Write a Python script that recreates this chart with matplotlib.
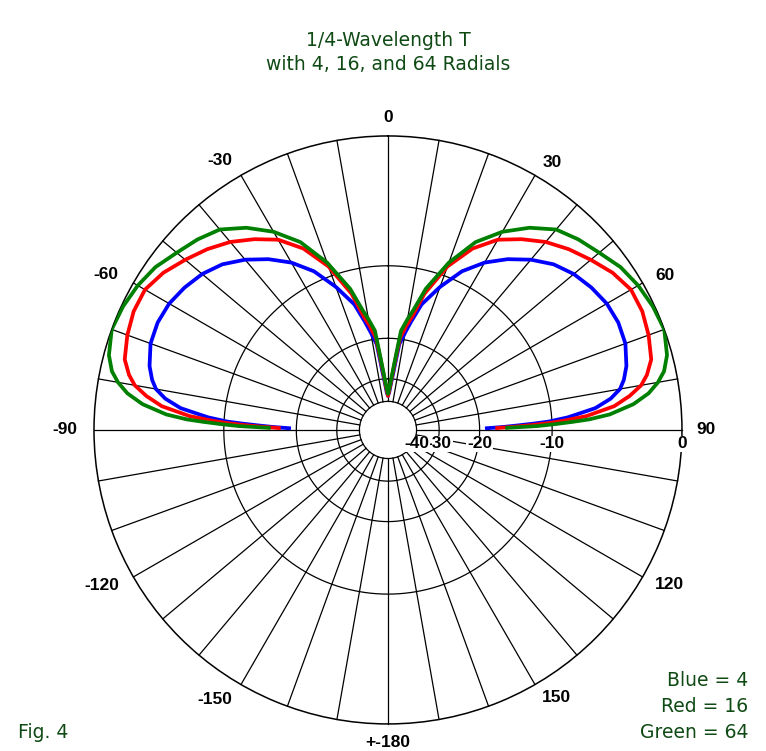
import numpy as np
import matplotlib.pyplot as plt

# zenith angles (deg), 0 = straight up, 90 = horizon; pattern is mirrored for the left side
angles = [0, 2, 3.5, 5.5, 6.5, 7.5, 10, 12, 15, 20, 25, 30, 35, 40, 45, 50, 55,
          60, 65, 70, 75, 78, 80, 82, 84, 86, 87, 87.5, 88, 88.5, 89]

blue_db = [-37, -35, -32, -27.5, -24.5, -21, -18.7, -16.8, -14.0, -11.3, -8.9,
           -7.2, -5.9, -4.8, -3.9, -3.3, -2.9, -2.6, -2.5, -2.6, -3.0, -3.4, -3.8,
           -4.6, -5.9, -8.4, -10.3, -12.0, -14.0, -16.0, -18.7]
red_db = [-37, -34, -31, -26, -23, -19.8, -17.5, -16.0, -12.6, -9.0, -6.6, -5.0,
          -4.0, -3.1, -2.4, -1.8, -1.2, -0.8, -0.8, -1.0, -1.3, -1.8, -2.3, -3.2,
          -4.4, -6.7, -8.8, -10.2, -12.0, -14.3, -17.0]
green_db = [-36, -33, -30.3, -25.2, -22.1, -18.5, -16.5, -15.0, -12.0, -8.6, -6.0,
            -4.3, -3.0, -2.0, -1.5, -1.1, -0.6, -0.3, -0.1, 0.0, -0.3, -0.7, -1.2,
            -1.9, -3.0, -4.8, -6.5, -8.0, -9.7, -11.6, -15.5]

ring_db = [0, -10, -20, -30, -40]
ring_labels = ['0', '-10', '-20', '-30', '-40']
spoke_deg = np.arange(0, 360, 10)
angle_ticks = [0, 30, 60, 90, 120, 150, 180, -150, -120, -90, -60, -30]
angle_labels = ['0', '30', '60', '90', '120', '150', '+-180',
                '-150', '-120', '-90', '-60', '-30']

legend_lines = ['Blue = 4', 'Red = 16', 'Green = 64']
title1 = '1/4-Wavelength T'
title2 = 'with 4, 16, and 64 Radials'
txtcol = '#0f4a14'


def arrl(db):
    # ARRL log scale: 0.89 per 2 dB
    return 0.89 ** (-np.asarray(db, dtype=float) / 2.0)


plt.rcParams['font.family'] = ['Liberation Sans', 'DejaVu Sans']

fig = plt.figure(figsize=(7.66, 7.51), dpi=100)
ax = fig.add_axes([0.1227, 0.0360, 0.7676, 0.7830], projection='polar')
ax.set_theta_zero_location('N')
ax.set_theta_direction(-1)
ax.set_ylim(0, 1)
ax.grid(False)
ax.set_xticks([])
ax.set_yticks([])
ax.spines['polar'].set_linewidth(1.1)

t = np.linspace(0, 2 * np.pi, 721)
for db in ring_db[1:]:
    ax.plot(t, np.full_like(t, arrl(db)), color='black', lw=0.9)
r_in = arrl(ring_db[-1])
for d in spoke_deg:
    ax.plot([np.radians(d)] * 2, [r_in, 1], color='black', lw=0.9, clip_on=False)

a = np.array(angles)
th = np.radians(np.concatenate([-a[::-1], a]))
for vals, col in [(blue_db, 'blue'), (red_db, 'red'), (green_db, 'green')]:
    v = np.array(vals)
    ax.plot(th, arrl(np.concatenate([v[::-1], v])), color=col, lw=2.7, zorder=5)

# radial scale labels along the 90 deg spoke
for db, lab in zip(ring_db, ring_labels):
    ax.annotate(lab, xy=(np.pi / 2, arrl(db)), xytext=(0, -14),
                textcoords='offset pixels', ha='center', va='center',
                fontsize=12.5, fontweight='bold', zorder=6,
                bbox=dict(boxstyle='square,pad=0.05', fc='white', ec='none'))

for d, lab in zip(angle_ticks, angle_labels):
    if d in (0, 180):
        ax.text(np.radians(d), 1.063, lab, ha='center', va='center',
                fontsize=12.5, fontweight='bold')
    elif d > 0:
        ax.text(np.radians(d), 1.05, lab, ha='left', va='center',
                fontsize=12.5, fontweight='bold')
    else:
        ax.text(np.radians(d), 1.057, lab, ha='right', va='center',
                fontsize=12.5, fontweight='bold')

gfont = dict(family='DejaVu Sans', fontsize=13.5, color=txtcol)
fig.text(388 / 766, 1 - 40 / 751, title1, ha='center', va='center', **gfont)
fig.text(388 / 766, 1 - 65 / 751, title2, ha='center', va='center', **gfont)

for i, s in enumerate(legend_lines):
    fig.text(748 / 766, 1 - (681 + 26 * i) / 751, s, ha='right', va='center', **gfont)
fig.text(18 / 766, 1 - 733 / 751, 'Fig. 4', ha='left', va='center', **gfont)

fig.savefig('out.png', dpi=100)
